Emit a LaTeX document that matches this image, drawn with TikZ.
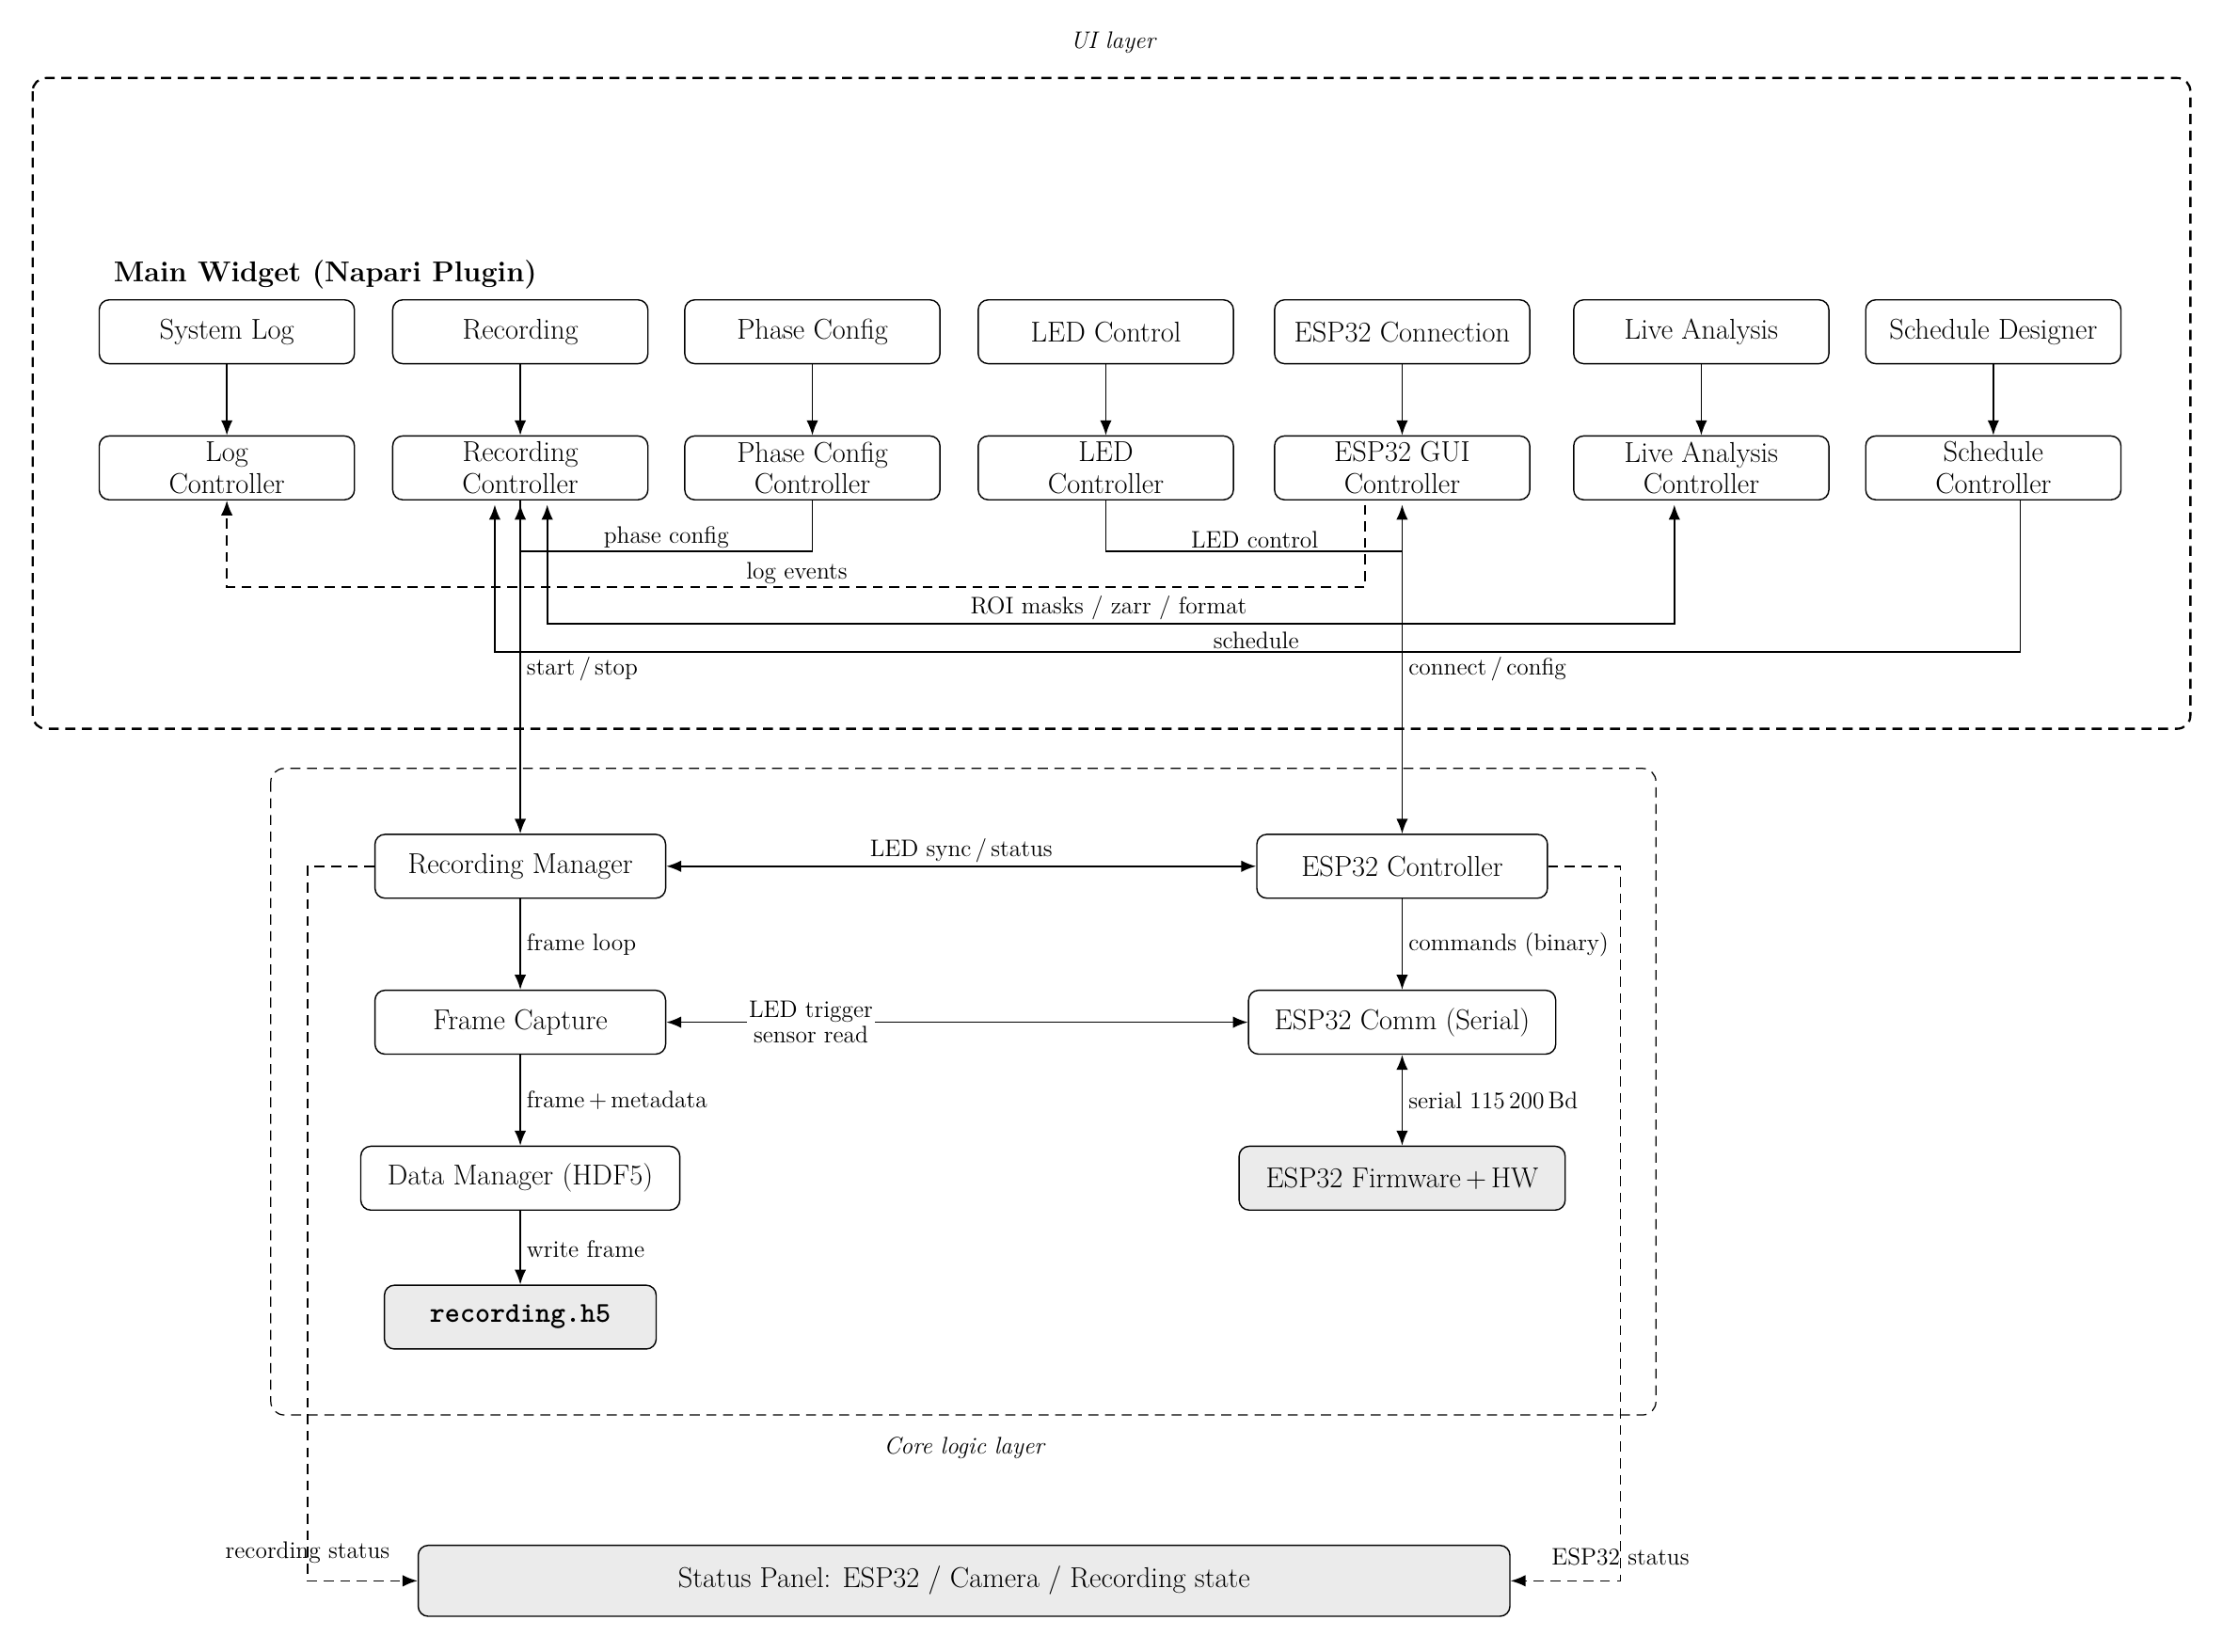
\documentclass[tikz,border=0pt]{standalone}
\usetikzlibrary{arrows.meta}
\begin{document}
\begin{tikzpicture}[x=0.03cm,y=-0.03cm,
  box/.style={draw,rounded corners=6pt,line width=0.8pt,minimum width=5.4cm,minimum height=1.35cm,align=center,font=\LARGE,inner sep=2pt},
  gbox/.style={box,fill=black!8},
  lbl/.style={font=\Large,inner sep=2pt},
  conn/.style={line width=0.9pt},
  arr/.style={conn,-{Latex[length=9pt,width=7pt]}},
  darr/.style={conn,{Latex[length=9pt,width=7pt]}-{Latex[length=9pt,width=7pt]}},
  dsh/.style={dashed,dash pattern=on 6pt off 4pt}]
\useasboundingbox (0,0) rectangle (1568,1165);
% layers
\draw[line width=1.3pt,dsh,rounded corners=8pt] (23,55) rectangle (1545,514);
\node[font=\Large\itshape] (uil) at (785,30) {UI layer};
\draw[line width=0.7pt,dsh,rounded corners=8pt] (191,542) rectangle (1168,998);
\node[font=\Large\itshape] (cll) at (680,1021) {Core logic layer};
\node[font=\LARGE\bfseries,anchor=west] (mw) at (76,194) {Main Widget (Napari Plugin)};
% top row
\node[box] (t1) at (160,234) {System Log};
\node[box] (t2) at (367,234) {Recording};
\node[box] (t3) at (573,234) {Phase Config};
\node[box] (t4) at (780,234) {LED Control};
\node[box] (t5) at (989,234) {ESP32 Connection};
\node[box] (t6) at (1200,234) {Live Analysis};
\node[box] (t7) at (1406,234) {Schedule Designer};
\node[box] (c1) at (160,330) {Log\\[-3pt]Controller};
\node[box] (c2) at (367,330) {Recording\\[-3pt]Controller};
\node[box] (c3) at (573,330) {Phase Config\\[-3pt]Controller};
\node[box] (c4) at (780,330) {LED\\[-3pt]Controller};
\node[box] (c5) at (989,330) {ESP32 GUI\\[-3pt]Controller};
\node[box] (c6) at (1200,330) {Live Analysis\\[-3pt]Controller};
\node[box] (c7) at (1406,330) {Schedule\\[-3pt]Controller};
\foreach \i in {1,...,7} \draw[arr] (t\i) -- (c\i);
% core
\node[box,minimum width=6.15cm] (rm) at (367,611) {Recording Manager};
\node[box,minimum width=6.15cm] (ec) at (989,611) {ESP32 Controller};
\node[box,minimum width=6.15cm] (fc) at (367,721) {Frame Capture};
\node[box,minimum width=6.5cm] (es) at (989,721) {ESP32 Comm (Serial)};
\node[box,minimum width=6.75cm] (dm) at (367,831) {Data Manager (HDF5)};
\node[gbox,minimum width=6.9cm] (fw) at (989,831) {ESP32 Firmware\,+\,HW};
\node[gbox,minimum width=5.75cm] (h5) at (367,929) {\ttfamily\bfseries recording.h5};
\node[gbox,minimum width=23.1cm,minimum height=1.5cm] (sp) at (680,1115) {Status Panel: ESP32 / Camera / Recording state};
% UI connectors
\draw[arr] (c3.south) |- (367,389) -- (367,356);
\node[lbl] (lpc) at (470,379) {phase config};
\draw[arr] (c4.south) |- (989,389) -- (989,356);
\node[lbl] (llc) at (885,381) {LED control};
\draw[arr,dsh] (963,356) -- (963,414) -- (160,414) -- (c1.south);
\node[lbl] (lle) at (562,404) {log events};
\draw[darr] (386,356) -- (386,440) -- (1181,440) -- (1181,356);
\node[lbl] (lroi) at (782,429) {ROI masks / zarr / format};
\draw[arr] (c7.south -| 1425,0) -- (1425,460) -- (349,460) -- (349,356);
\node[lbl] (lsc) at (886,452) {schedule};
\draw[arr] (c2.south) -- (rm.north);
\node[lbl,anchor=west] (lss) at (369,472) {start\,/\,stop};
\draw[arr] (989,389) -- (ec.north);
\node[lbl,anchor=west] (lcc) at (991,472) {connect\,/\,config};
% core connectors
\draw[darr] (rm) -- (ec);
\node[lbl] (lls) at (678,600) {LED sync\,/\,status};
\draw[arr] (rm) -- (fc);
\node[lbl,anchor=west] (lfl) at (369,666) {frame loop};
\draw[darr] (fc) -- (es);
\node[lbl,fill=white,align=center,inner sep=1pt] (ltr) at (572,721) {LED trigger\\[-3pt]sensor read};
\draw[arr] (fc) -- (dm);
\node[lbl,anchor=west] (lfm) at (369,776) {frame\,+\,metadata};
\draw[arr] (dm) -- (h5);
\node[lbl,anchor=west] (lwf) at (369,881) {write frame};
\draw[arr] (ec) -- (es);
\node[lbl,anchor=west] (lcb) at (991,666) {commands (binary)};
\draw[darr] (es) -- (fw);
\node[lbl,anchor=west] (lsb) at (991,776) {serial 115\,200\,Bd};
\draw[arr,dsh] (rm.west) -- (217,611) -- (217,1115) -- (sp.west);
\node[lbl] (lrs) at (217,1095) {recording status};
\draw[arr,dsh] (ec.east) -- (1143,611) -- (1143,1115) -- (sp.east);
\node[lbl] (les) at (1143,1098) {ESP32 status};
\end{tikzpicture}
\end{document}
